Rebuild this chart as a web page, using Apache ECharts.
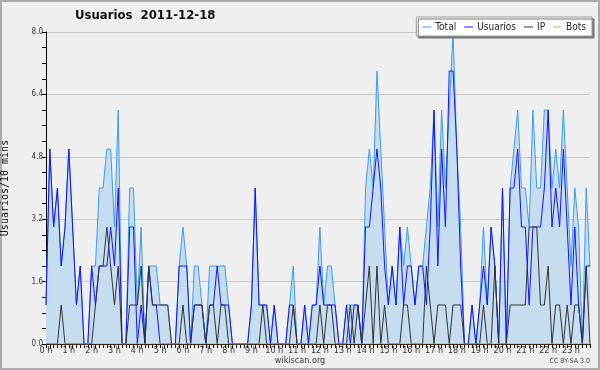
<!DOCTYPE html>
<html><head><meta charset="utf-8">
<script src="https://cdn.jsdelivr.net/npm/echarts@6/dist/echarts.min.js"></script>
<style>html,body{margin:0;padding:0;background:#efefef}#c{width:600px;height:370px}</style>
</head><body><div id="c"></div>
<script>
// tick labels for hours
const hourLabels = ["0 h","1 h","2 h","3 h","4 h","5 h","6 h","7 h","8 h","9 h","10 h","11 h","12 h","13 h","14 h","15 h","16 h","17 h","18 h","19 h","20 h","21 h","22 h","23 h"];
// Series values, every 10 minutes
const total = [
 1,5,3,4,2,3, 5,3,1,2,0,0, 2,2,4,4,5,5, 3,6,0,0,4,4,
 1,3,0,2,2,2, 1,1,1,0,0,2, 3,2,0,2,2,1, 0,2,2,2,2,2,
 1,0,0,0,0,0, 1,4,1,1,1,0, 1,0,0,0,1,2, 0,0,1,0,1,1,
 3,1,2,2,1,0, 0,1,1,1,1,0, 4,5,4,7,5,3, 1,2,1,3,2,3,
 2,1,2,2,3,4, 6,3,6,4,6,8, 5,3,0,0,1,0, 1,3,1,3,2,0,
 4,0,4,5,6,4, 4,3,6,4,4,6, 6,4,5,4,6,4, 2,4,3,0,4,2];
const usuarios = [
 1,5,3,4,2,3, 5,3,1,2,0,0, 2,1,2,2,2,3, 2,4,0,0,3,3,
 0,1,0,2,1,1, 0,0,0,0,0,2, 2,2,0,1,1,1, 0,1,1,2,1,1,
 1,0,0,0,0,0, 1,4,1,1,1,0, 1,0,0,0,1,1, 0,0,1,0,1,1,
 2,1,1,1,1,0, 0,1,0,1,1,0, 3,3,4,5,4,2, 1,2,1,3,1,2,
 2,1,2,2,1,3, 6,2,5,3,7,7, 5,2,0,0,1,0, 1,2,1,3,2,0,
 4,0,4,4,5,3, 3,1,3,3,3,4, 6,3,4,3,5,3, 1,3,1,0,2,2];
const ip = [
 0,0,0,0,1,0, 0,0,0,0,0,0, 0,1,2,2,3,2, 1,2,0,0,1,1,
 1,2,0,2,1,1, 1,1,1,0,0,0, 1,0,0,1,1,1, 0,1,1,0,1,1,
 0,0,0,0,0,0, 0,0,0,1,0,0, 0,0,0,0,0,1, 0,0,0,0,0,0,
 1,0,1,1,0,0, 0,0,1,0,1,0, 1,2,0,2,0,1, 0,0,0,0,1,1,
 0,0,0,0,2,1, 0,1,1,1,0,1, 1,1,0,0,0,0, 0,1,0,0,2,0,
 0,0,1,1,1,1, 1,3,3,3,1,1, 2,0,1,1,0,1, 0,1,1,0,2,0];
const bots = [
 0,0,0,0,0,0, 0,0,0,0,0,0, 0,0,0,0,0,0, 0,0,0,0,0,0,
 0,0,0,0,0,0, 0,0,0,0,0,0, 0,0,0,0,0,0, 0,0,0,0,0,0,
 0,0,0,0,0,0, 0,0,0,0,0,0, 0,0,0,0,0,0, 0,0,0,0,0,0,
 0,0,0,0,0,0, 0,0,0,0,0,0, 0,0,0,0,0,0, 0,0,0,0,0,0,
 0,0,0,0,0,0, 0,0,0,0,0,0, 0,0,0,0,0,0, 0,0,0,0,0,0,
 0,0,0,0,0,0, 0,0,0,0,0,0, 0,0,0,0,0,0, 0,0,0,0,0,0];
const yMin = 0, yMax = 8, yStep = 1.6;

const categories = [];
for (let h = 0; h < 24; h++) for (let m = 0; m < 60; m += 10) categories.push(h + ":" + (m < 10 ? "0" : "") + m);

const FONT = "'DejaVu Sans Condensed','DejaVu Sans',sans-serif";
const chart = echarts.init(document.getElementById('c'), null, {renderer: 'canvas'});
chart.setOption({
  animation: false,
  backgroundColor: '#efefef',
  title: {
    text: 'Usuarios  2011-12-18', left: 75, top: 9, padding: 0,
    textStyle: {fontFamily: FONT, fontSize: 13, fontWeight: 'bold', color: '#111'}
  },
  legend: {
    data: ['Total', 'Usuarios', 'IP', 'Bots'],
    right: 8, top: 17, padding: [5, 6, 4, 6], itemGap: 8,
    itemWidth: 9, itemHeight: 1, icon: 'rect',
    backgroundColor: '#ffffff', borderColor: '#999', borderWidth: 1,
    shadowColor: '#777', shadowOffsetX: 2, shadowOffsetY: 2, shadowBlur: 0,
    textStyle: {fontFamily: FONT, fontSize: 10, color: '#222', padding: [0, 0, 0, -1]}
  },
  grid: {left: 46, right: 10, top: 32, bottom: 26, containLabel: false, outerBoundsMode: 'none'},
  xAxis: {
    type: 'category', data: categories, boundaryGap: false,
    axisLine: {lineStyle: {color: '#000', width: 1}},
    axisTick: {show: true, interval: 0, length: 4, lineStyle: {color: '#000'}},
    axisLabel: {
      interval: 5, margin: 2, fontFamily: FONT, fontSize: 9, color: '#333',
      formatter: (v, i) => hourLabels[Math.floor(i / 6)]
    },
    splitLine: {show: false}
  },
  yAxis: {
    type: 'value', min: yMin, max: yMax, interval: yStep,
    name: 'Usuarios/10 mins', nameLocation: 'middle', nameGap: 36, nameRotate: 90,
    nameTextStyle: {fontFamily: "'DejaVu Sans Mono',monospace", fontSize: 10, color: '#111'},
    axisLine: {show: true, lineStyle: {color: '#000', width: 1}},
    axisTick: {show: true, length: 4, lineStyle: {color: '#000'}},
    minorTick: {show: true, splitNumber: 4, length: 4, lineStyle: {color: '#000'}},
    axisLabel: {margin: 3, fontFamily: FONT, fontSize: 8, color: '#333', formatter: v => v.toFixed(1)},
    splitLine: {show: true, lineStyle: {color: '#c8c8c8', width: 1}}
  },
  series: [
    {name: 'Total', type: 'line', data: total, symbol: 'none',
     lineStyle: {color: '#3b9cf0', width: 1}, itemStyle: {color: '#3b9cf0'},
     areaStyle: {color: '#c6dcef', opacity: 1}},
    {name: 'Usuarios', type: 'line', data: usuarios, symbol: 'none',
     lineStyle: {color: '#1414ff', width: 1}, itemStyle: {color: '#1414ff'}},
    {name: 'IP', type: 'line', data: ip, symbol: 'none',
     lineStyle: {color: '#333333', width: 1}, itemStyle: {color: '#333333'}},
    {name: 'Bots', type: 'line', data: bots, symbol: 'none',
     lineStyle: {color: '#ffa31a', width: 1}, itemStyle: {color: '#ffa31a'}}
  ],
  graphic: [
    {type: 'rect', shape: {x: 1, y: 1, width: 598, height: 368}, style: {fill: 'none', stroke: '#aaaaaa', lineWidth: 2}, silent: true},
    {type: 'text', left: 'center', top: 356, style: {text: 'wikiscan.org', font: "9px " + FONT, fill: '#333'}},
    {type: 'text', right: 10, top: 358, style: {text: 'CC BY-SA 3.0', font: "7px " + FONT, fill: '#444'}}
  ]
});
</script></body></html>
